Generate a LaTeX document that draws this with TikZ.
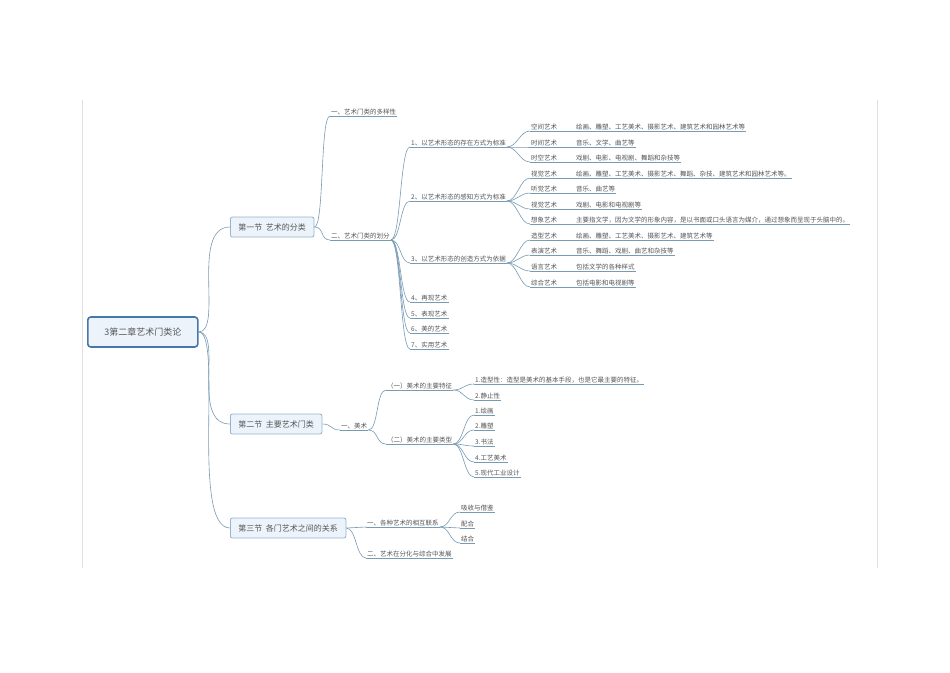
\documentclass[tikz,border=0pt]{standalone}
\usepackage{fontspec}
\newfontfamily\cjk{Noto Sans CJK SC}
\definecolor{ln}{RGB}{120,155,180}
\definecolor{tx}{RGB}{85,85,85}
\definecolor{bx}{RGB}{236,243,250}
\definecolor{bd}{RGB}{150,180,205}
\definecolor{rd}{RGB}{70,120,170}
\tikzset{
 lnk/.style={draw=ln,line width=0.6pt},
 lf/.style={anchor=south west,inner sep=1pt,font=\cjk\fontsize{6.5}{7}\selectfont,text=tx},
 sec/.style={draw=bd,fill=bx,rounded corners=2pt,line width=0.8pt,minimum height=20pt,inner xsep=8pt,font=\cjk\fontsize{8}{9}\selectfont,text=tx,anchor=west},
 root/.style={draw=rd,fill=bx,rounded corners=3pt,line width=1.6pt,minimum height=30pt,minimum width=110pt,font=\cjk\fontsize{9}{10}\selectfont,text=tx,anchor=west}
}
\newcommand\lfn[4]{\node[lf] (#1) at (#2,#3) {#4}; \draw[lnk] (#1.south west)--(#1.south east);}
\newcommand\cn[2]{\draw[lnk] (#1.south east) .. controls +(10,0) and +(-10,0) .. (#2.south west);}
\newcommand\bc[2]{\draw[lnk] (#1.east) .. controls +(10,0) and +(-10,0) .. (#2.south west);}
\newcommand\two[2]{#1\hspace{19pt}#2}
\begin{document}
\begin{tikzpicture}[x=1pt,y=-1pt]
\useasboundingbox (0,0) rectangle (950,672);
\fill[white] (0,0) rectangle (950,672);
\draw[black!12,line width=1pt] (82,100)--(82,568) (877,100)--(877,568);
\node[root] (r) at (87,332) {3第二章艺术门类论};
\node[sec] (s1) at (230,227) {第一节\ \ 艺术的分类};
\node[sec] (s2) at (230,424) {第二节\ \ 主要艺术门类};
\node[sec] (s3) at (230,528) {第三节\ \ 各门艺术之间的关系};
\foreach \s in {s1,s2,s3}{\draw[lnk] (r.east) .. controls +(25,0) and +(-40,0) .. (\s.west);}
% section 1
\lfn{a1}{330}{116}{一、艺术门类的多样性}
\lfn{a2}{330}{240}{二、艺术门类的划分}
\bc{s1}{a1}\bc{s1}{a2}
\lfn{b1}{410}{147}{1、以艺术形态的存在方式为标准}
\lfn{b2}{410}{201}{2、以艺术形态的感知方式为标准}
\lfn{b3}{410}{263}{3、以艺术形态的创造方式为依据}
\lfn{b4}{410}{302}{4、再现艺术}
\lfn{b5}{410}{318}{5、表现艺术}
\lfn{b6}{410}{333}{6、美的艺术}
\lfn{b7}{410}{349}{7、实用艺术}
\foreach \b in {b1,b2,b3,b4,b5,b6,b7}{\cn{a2}{\b}}
\lfn{c1}{530}{131}{\two{空间艺术}{绘画、雕塑、工艺美术、摄影艺术、建筑艺术和园林艺术等}}
\lfn{c2}{530}{147}{\two{时间艺术}{音乐、文学、曲艺等}}
\lfn{c3}{530}{162}{\two{时空艺术}{戏剧、电影、电视剧、舞蹈和杂技等}}
\foreach \c in {c1,c2,c3}{\cn{b1}{\c}}
\lfn{c4}{530}{178}{\two{视觉艺术}{绘画、雕塑、工艺美术、摄影艺术、舞蹈、杂技、建筑艺术和园林艺术等。}}
\lfn{c5}{530}{193}{\two{听觉艺术}{音乐、曲艺等}}
\lfn{c6}{530}{209}{\two{视觉艺术}{戏剧、电影和电视剧等}}
\lfn{c7}{530}{224}{\two{想象艺术}{主要指文学，因为文学的形象内容，是以书面或口头语言为媒介，通过想象而呈现于头脑中的。}}
\foreach \c in {c4,c5,c6,c7}{\cn{b2}{\c}}
\lfn{c8}{530}{240}{\two{造型艺术}{绘画、雕塑、工艺美术、摄影艺术、建筑艺术等}}
\lfn{c9}{530}{255}{\two{表演艺术}{音乐、舞蹈、戏剧、曲艺和杂技等}}
\lfn{c10}{530}{271}{\two{语言艺术}{包括文学的各种样式}}
\lfn{c11}{530}{287}{\two{综合艺术}{包括电影和电视剧等}}
\foreach \c in {c8,c9,c10,c11}{\cn{b3}{\c}}
% section 2
\lfn{d1}{340}{430}{一、美术}
\bc{s2}{d1}
\lfn{e1}{386}{390}{（一）美术的主要特征}
\lfn{e2}{386}{444}{（二）美术的主要类型}
\cn{d1}{e1}\cn{d1}{e2}
\lfn{f1}{474}{384}{1.造型性：造型是美术的基本手段，也是它最主要的特征。}
\lfn{f2}{474}{400}{2.静止性}
\cn{e1}{f1}\cn{e1}{f2}
\lfn{g1}{474}{415}{1.绘画}
\lfn{g2}{474}{430}{2.雕塑}
\lfn{g3}{474}{446}{3.书法}
\lfn{g4}{474}{462}{4.工艺美术}
\lfn{g5}{474}{477}{5.现代工业设计}
\foreach \g in {g1,g2,g3,g4,g5}{\cn{e2}{\g}}
% section 3
\lfn{h1}{366}{527}{一、各种艺术的相互联系}
\lfn{h2}{366}{558}{二、艺术在分化与综合中发展}
\bc{s3}{h1}\bc{s3}{h2}
\lfn{i1}{460}{512}{吸收与借鉴}
\lfn{i2}{460}{528}{配合}
\lfn{i3}{460}{543}{结合}
\foreach \i in {i1,i2,i3}{\cn{h1}{\i}}
\end{tikzpicture}
\end{document}
